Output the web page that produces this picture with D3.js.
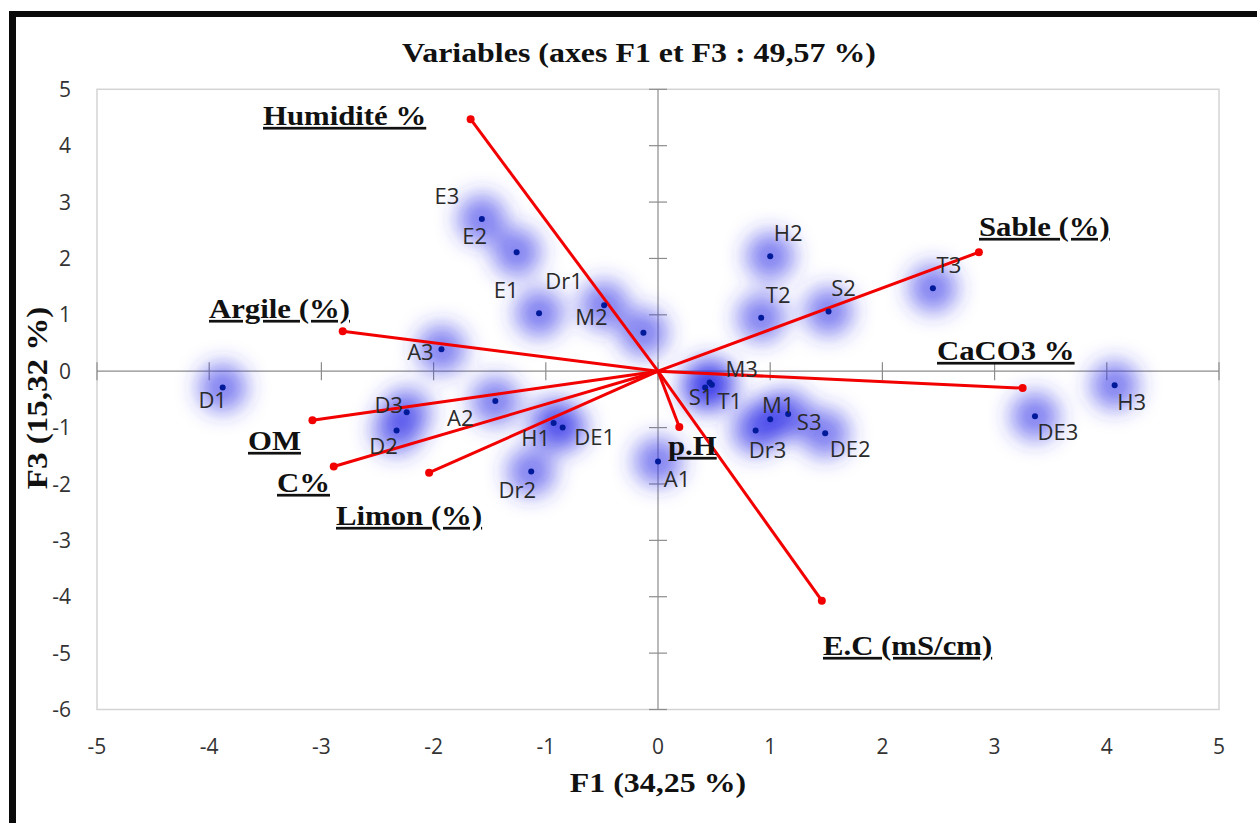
<!DOCTYPE html>
<html><head><meta charset="utf-8">
<script src="https://cdn.jsdelivr.net/npm/d3@7"></script>
<style>
html,body{margin:0;padding:0;background:#fff;}
svg{display:block;}
</style></head>
<body>
<script>
// ---- Data ----
const obsNames = ["E3","E2","E1","Dr1","M2","A3","D1","D3","D2","A2","H1","DE1","Dr2","A1","S1","T1","M3","M1","S3","Dr3","DE2","H2","T2","S2","T3","H3","DE3"];
const obsF1 = [-1.57,-1.26,-1.06,-0.48,-0.13,-1.93,-3.88,-2.24,-2.33,-1.45,-0.93,-0.85,-1.13,0.0,0.42,0.48,0.46,1.0,1.16,0.87,1.49,1.0,0.92,1.52,2.45,4.07,3.36];
const obsF3 = [2.70,2.11,1.03,1.17,0.68,0.39,-0.29,-0.73,-1.05,-0.53,-0.92,-1.0,-1.78,-1.6,-0.29,-0.24,-0.2,-0.85,-0.76,-1.05,-1.1,2.04,0.95,1.06,1.47,-0.25,-0.8];

const varNames = ["Humidité %","Sable (%)","Argile (%)","CaCO3 %","OM","C%","Limon (%)","p.H","E.C (mS/cm)"];
const varF1 = [-1.67,2.86,-2.81,3.25,-3.08,-2.89,-2.04,0.19,1.46];
const varF3 = [4.47,2.11,0.71,-0.30,-0.87,-1.69,-1.80,-0.99,-4.07];

const xTicks = [-5,-4,-3,-2,-1,0,1,2,3,4,5];
const yTicks = [5,4,3,2,1,0,-1,-2,-3,-4,-5,-6];

const title = "Variables (axes F1 et F3 : 49,57 %)";
const xTitle = "F1 (34,25 %)";
const yTitle = "F3 (15,32 %)";

// label offsets (layout only)
const obsLabelPos = {
  E3:[-35,-23],E2:[-42,-16],E1:[-33,-23],Dr1:[-40,-24],M2:[-52,-16],A3:[-21,3],D1:[-10,13],D3:[-18,-7],D2:[-13,16],
  A2:[-35,17],H1:[-18,15],DE1:[32,9],Dr2:[-14,19],A1:[19,18],S1:[-4,10],T1:[18,16],M3:[32,-13],M1:[8,-14],S3:[21,8],
  Dr3:[12,20],DE2:[25,16],H2:[18,-23],T2:[17,-23],S2:[15,-23],T3:[16,-23],H3:[17,17],DE3:[23,16]
};
const varLabelPos = {
  "Humidité %":[263,125],"Sable (%)":[979,236],"Argile (%)":[209,318],"CaCO3 %":[937,360],"OM":[248,450],
  "C%":[277,492],"Limon (%)":[336,525],"p.H":[668,455],"E.C (mS/cm)":[823,655]
};

const W = 1257, H = 823;
const svg = d3.select("body").append("svg").attr("width", W).attr("height", H);

// outer frame (black, top & left)
svg.append("rect").attr("x",9).attr("y",11).attr("width",W-9).attr("height",6).attr("fill","#0a0a0a");
svg.append("rect").attr("x",9).attr("y",11).attr("width",7).attr("height",H-11).attr("fill","#0a0a0a");

const x = d3.scaleLinear().domain([-5,5]).range([97,1219]);
const y = d3.scaleLinear().domain([-6,5]).range([709.5,89.3]);

// plot frame
svg.append("rect").attr("x",x(-5)).attr("y",y(5)).attr("width",x(5)-x(-5)).attr("height",y(-6)-y(5))
  .attr("fill","none").attr("stroke","#d4d4d4").attr("stroke-width",1.5);

// zero axes with crossing ticks
const axG = svg.append("g").attr("stroke","#8c8c8c").attr("stroke-width",1.2);
axG.append("line").attr("x1",x(-5)).attr("x2",x(5)).attr("y1",y(0)).attr("y2",y(0));
axG.append("line").attr("x1",x(0)).attr("x2",x(0)).attr("y1",y(5)).attr("y2",y(-6));
axG.selectAll(".yt").data(yTicks).enter().append("line")
  .attr("x1",x(0)-9).attr("x2",x(0)+9).attr("y1",d=>y(d)).attr("y2",d=>y(d));
axG.selectAll(".xt").data(xTicks).enter().append("line")
  .attr("y1",y(0)-9).attr("y2",y(0)+9).attr("x1",d=>x(d)).attr("x2",d=>x(d));

// tick labels
const tickFont = "'Open Sans', 'Liberation Sans', sans-serif";
svg.selectAll(".ylab").data(yTicks).enter().append("text")
  .attr("x",71).attr("y",d=>y(d)).attr("dy","0.36em").attr("text-anchor","end")
  .attr("font-family",tickFont).attr("font-size",21).attr("fill","#333").text(d=>d);
svg.selectAll(".xlab").data(xTicks).enter().append("text")
  .attr("x",d=>x(d)).attr("y",746).attr("dy","0.36em").attr("text-anchor","middle")
  .attr("font-family",tickFont).attr("font-size",21).attr("fill","#333").text(d=>d);

// titles (serif, slightly stretched horizontally like the source)
const serif = "'Liberation Serif', 'Times New Roman', serif";
const SX = 1.14;
svg.append("g").attr("transform",`translate(639,62) scale(${SX},1)`).append("text")
  .attr("text-anchor","middle")
  .attr("font-family",serif).attr("font-weight","bold").attr("font-size",28).attr("fill","#111").text(title);
svg.append("g").attr("transform",`translate(658,792) scale(${SX},1)`).append("text")
  .attr("text-anchor","middle")
  .attr("font-family",serif).attr("font-weight","bold").attr("font-size",28).attr("fill","#111").text(xTitle);
svg.append("g").attr("transform","translate(47,398) rotate(-90) scale(1.14,1)").append("text")
  .attr("text-anchor","middle")
  .attr("font-family",serif).attr("font-weight","bold").attr("font-size",29).attr("fill","#111").text(yTitle);

// halos
const defs = svg.append("defs");
defs.append("filter").attr("id","blur").attr("x","-100%").attr("y","-100%").attr("width","300%").attr("height","300%")
  .append("feGaussianBlur").attr("stdDeviation",11);
const obs = obsNames.map((n,i)=>({n, f1:obsF1[i], f3:obsF3[i]}));
svg.append("g").attr("filter","url(#blur)").selectAll("circle").data(obs).enter().append("circle")
  .attr("cx",d=>x(d.f1)).attr("cy",d=>y(d.f3)).attr("r",24)
  .attr("fill","#3434e8").attr("fill-opacity",0.62);

// variable vectors
const vars = varNames.map((n,i)=>({n, f1:varF1[i], f3:varF3[i]}));
const vg = svg.append("g");
vg.selectAll("line").data(vars).enter().append("line")
  .attr("x1",x(0)).attr("y1",y(0)).attr("x2",d=>x(d.f1)).attr("y2",d=>y(d.f3))
  .attr("stroke","#f20000").attr("stroke-width",3);
vg.selectAll("circle").data(vars).enter().append("circle")
  .attr("cx",d=>x(d.f1)).attr("cy",d=>y(d.f3)).attr("r",4).attr("fill","#f20000");

// observation dots
svg.append("g").selectAll("circle").data(obs).enter().append("circle")
  .attr("cx",d=>x(d.f1)).attr("cy",d=>y(d.f3)).attr("r",3).attr("fill","#001a99");

// observation labels
svg.append("g").selectAll("text").data(obs).enter().append("text")
  .attr("x",d=>x(d.f1)+obsLabelPos[d.n][0]).attr("y",d=>y(d.f3)+obsLabelPos[d.n][1])
  .attr("dy","0.36em").attr("text-anchor","middle")
  .attr("font-family",tickFont).attr("font-size",22).attr("fill","#2a2a2a").text(d=>d.n);

// variable labels
svg.append("g").selectAll("g").data(vars).enter().append("g")
  .attr("transform",d=>`translate(${varLabelPos[d.n][0]},${varLabelPos[d.n][1]}) scale(${SX},1)`)
  .append("text")
  .attr("font-family",serif).attr("font-weight","bold").attr("font-size",27)
  .attr("fill","#111").style("text-decoration","underline").text(d=>d.n);
</script>
</body></html>
